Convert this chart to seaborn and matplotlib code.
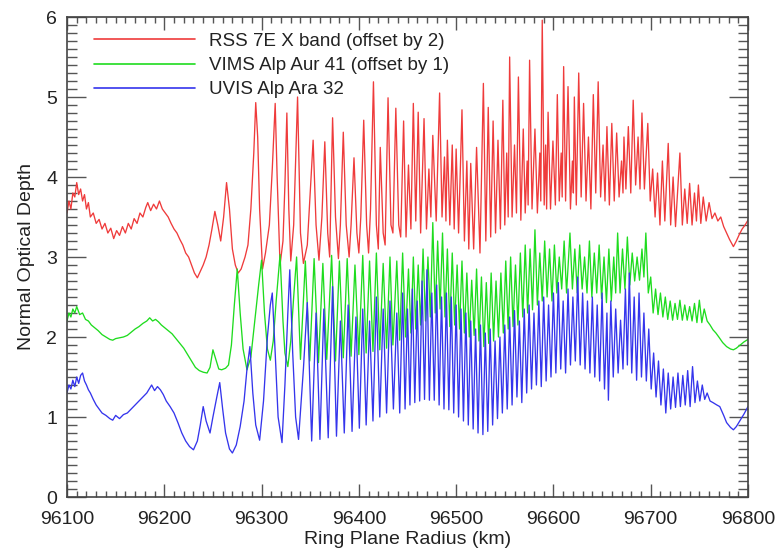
import matplotlib
matplotlib.use("Agg")
import matplotlib.pyplot as plt
import pandas as pd
import seaborn as sns
from matplotlib.ticker import MultipleLocator

# ---------------- data (radius km, normal optical depth as plotted) ----------------
rss_points = [
    (96100, 3.55), (96102, 3.70), (96104, 3.60), (96106, 3.80), (96108, 3.75), (96110, 3.93),
    (96112, 3.78), (96114, 3.85), (96116, 3.70), (96118, 3.78), (96120, 3.60), (96122, 3.68),
    (96124, 3.50), (96127, 3.55), (96130, 3.42), (96133, 3.47), (96136, 3.35), (96139, 3.42),
    (96142, 3.30), (96145, 3.36), (96148, 3.23), (96151, 3.33), (96154, 3.27), (96157, 3.38),
    (96160, 3.30), (96163, 3.42), (96166, 3.35), (96169, 3.48), (96172, 3.42), (96175, 3.55),
    (96178, 3.50), (96181, 3.62), (96183, 3.68), (96186, 3.58), (96189, 3.66), (96192, 3.60),
    (96195, 3.70), (96198, 3.60), (96201, 3.55), (96204, 3.50), (96207, 3.42), (96210, 3.35),
    (96213, 3.30), (96216, 3.22), (96219, 3.15), (96222, 3.05), (96225, 3.00), (96228, 2.90),
    (96231, 2.80), (96234, 2.74), (96237, 2.82), (96240, 2.90), (96243, 3.00), (96246, 3.15),
    (96249, 3.35), (96252, 3.57), (96255, 3.40), (96258, 3.20), (96261, 3.50), (96264, 3.93),
    (96267, 3.60), (96270, 3.10), (96273, 2.90), (96276, 2.80), (96279, 2.85), (96283, 3.00),
    (96286, 3.15), (96289, 3.60), (96292, 4.30), (96294, 4.93), (96296, 4.50), (96298, 3.60),
    (96301, 2.85), (96304, 3.05), (96308, 3.40), (96311, 4.10), (96314, 4.92), (96316, 4.00),
    (96319, 2.90), (96322, 3.20), (96324, 3.90), (96326, 4.80), (96328, 3.60), (96330, 2.95),
    (96333, 3.40), (96335, 4.20), (96337, 5.00), (96340, 3.30), (96343, 2.92), (96347, 3.15),
    (96350, 3.80), (96353, 4.46), (96356, 3.40), (96359, 2.96), (96362, 3.50), (96365, 4.44),
    (96368, 3.30), (96370, 3.00), (96373, 4.74), (96376, 3.50), (96379, 2.98), (96381, 3.40),
    (96384, 4.56), (96387, 3.40), (96390, 3.00), (96392, 3.40), (96395, 4.24), (96398, 3.30),
    (96400, 3.05), (96402, 3.50), (96405, 4.71), (96408, 3.40), (96410, 3.05), (96412, 3.60),
    (96415, 5.19), (96418, 3.40), (96420, 3.10), (96422, 4.37), (96425, 3.30), (96427, 3.15),
    (96430, 4.99), (96433, 3.40), (96435, 3.30), (96438, 4.86), (96441, 3.40), (96443, 3.25),
    (96446, 4.70), (96448.5, 3.25), (96451, 4.15), (96453.5, 3.35), (96456, 4.92), (96458.5, 3.45),
    (96461, 4.81), (96463.5, 3.30), (96467, 4.73), (96469.5, 3.35), (96472, 4.10), (96474, 3.50),
    (96476, 4.52), (96479.5, 3.45), (96483, 5.05), (96485.5, 3.50), (96488, 4.25), (96489.5, 3.45),
    (96491, 4.46), (96493.5, 3.40), (96496, 4.40), (96498, 3.35), (96500, 4.35), (96502.5, 3.30),
    (96506, 4.84), (96508.5, 3.20), (96511, 4.20), (96513, 3.10), (96515, 4.17), (96518, 3.10),
    (96521, 4.37), (96524.5, 3.05), (96528, 5.17), (96530.5, 3.20), (96533, 4.87), (96535.5, 3.25),
    (96538, 4.70), (96540.5, 3.30), (96543, 4.46), (96545.5, 3.35), (96548, 4.96), (96550, 3.40),
    (96552, 4.30), (96553.5, 3.50), (96555, 5.50), (96557.5, 3.50), (96560, 4.40), (96562, 3.55),
    (96564, 5.25), (96566.5, 3.46), (96569, 4.60), (96571, 3.55), (96573, 4.20), (96574, 3.65),
    (96575.5, 5.46), (96578, 3.60), (96581, 4.60), (96583.5, 3.55), (96586, 4.30), (96587, 3.70),
    (96588.5, 5.96), (96590.5, 3.65), (96592, 4.40), (96593, 3.60), (96594.5, 4.81), (96597, 3.60),
    (96599.5, 4.45), (96602, 3.65), (96604, 5.03), (96606, 3.70), (96608, 4.30), (96609, 3.75),
    (96610.5, 5.38), (96612.5, 3.70), (96615, 5.13), (96617.5, 3.60), (96619.5, 4.20), (96620.5, 3.80),
    (96621.5, 5.00), (96623.5, 3.65), (96626, 5.30), (96628.5, 3.75), (96631, 4.92), (96633.5, 3.70),
    (96636, 4.50), (96638.5, 3.60), (96641, 5.03), (96643.5, 3.80), (96646, 5.19), (96648.5, 3.75),
    (96651, 4.40), (96653, 3.70), (96655, 4.63), (96657.5, 3.65), (96660, 4.67), (96662.5, 3.70),
    (96665, 4.55), (96667.5, 3.75), (96670, 4.20), (96671.5, 3.80), (96672.5, 4.50), (96674.5, 3.85),
    (96677, 4.63), (96679.5, 3.80), (96682, 4.96), (96684.5, 3.90), (96687, 4.50), (96689, 3.85),
    (96691, 4.80), (96693.5, 3.85), (96697, 4.67), (96699.5, 3.70), (96702, 4.10), (96704.5, 3.50),
    (96707, 4.05), (96709.5, 3.40), (96712, 4.20), (96714.5, 3.45), (96718, 4.42), (96720.5, 3.40),
    (96723, 4.00), (96725.5, 3.38), (96730, 4.30), (96732.5, 3.40), (96735, 3.85), (96737.5, 3.42),
    (96740, 3.92), (96742.5, 3.40), (96745, 3.80), (96747, 3.45), (96749, 3.90), (96751.5, 3.42),
    (96754, 3.75), (96757, 3.45), (96760, 3.68), (96763, 3.48), (96766, 3.55), (96769, 3.45),
    (96772, 3.50), (96775, 3.38), (96778, 3.30), (96781, 3.22), (96785, 3.13), (96788, 3.20),
    (96791, 3.28), (96794, 3.35), (96797, 3.40), (96800, 3.46),
]

vims_points = [
    (96100, 2.20), (96102, 2.30), (96104, 2.25), (96106, 2.35), (96108, 2.30), (96110, 2.38),
    (96113, 2.28), (96116, 2.30), (96119, 2.22), (96122, 2.20), (96125, 2.15), (96128, 2.12),
    (96132, 2.08), (96136, 2.03), (96140, 2.00), (96144, 1.97), (96147, 1.96), (96150, 1.98),
    (96154, 1.99), (96158, 2.00), (96162, 2.02), (96166, 2.06), (96170, 2.10), (96174, 2.13),
    (96178, 2.17), (96182, 2.20), (96185, 2.24), (96188, 2.20), (96191, 2.22), (96194, 2.19),
    (96197, 2.15), (96200, 2.12), (96204, 2.08), (96208, 2.04), (96212, 1.98), (96216, 1.92),
    (96220, 1.86), (96224, 1.78), (96228, 1.70), (96232, 1.62), (96236, 1.58), (96240, 1.56),
    (96244, 1.55), (96247, 1.62), (96250, 1.84), (96253, 1.72), (96256, 1.60), (96259, 1.59),
    (96263, 1.61), (96266, 1.65), (96269, 1.90), (96272, 2.40), (96275, 2.85), (96278, 2.30),
    (96281, 1.85), (96285, 1.59), (96289, 1.75), (96293, 2.20), (96297, 2.65), (96300, 2.96),
    (96303, 2.30), (96306, 1.85), (96309, 1.71), (96312, 1.95), (96315, 2.45), (96319, 3.03),
    (96322, 2.20), (96324, 1.80), (96327, 1.63), (96330, 1.95), (96333, 2.50), (96336, 3.00),
    (96340, 1.72), (96345, 2.95), (96349.5, 1.70), (96354, 2.98), (96358.5, 1.68), (96363, 2.92),
    (96367, 1.72), (96372, 3.02), (96376, 1.70), (96380, 2.95), (96384, 1.74), (96388, 2.98),
    (96392, 1.76), (96396, 2.90), (96400, 1.78), (96404, 3.02), (96407.5, 1.80), (96411, 2.95),
    (96414.5, 1.82), (96418, 3.05), (96421.5, 1.84), (96425, 2.92), (96428.5, 1.86), (96432, 3.00),
    (96435, 1.90), (96439, 2.95), (96442, 1.96), (96445, 3.05), (96448, 2.00), (96451, 2.85),
    (96453.5, 2.05), (96456, 3.00), (96458.5, 2.10), (96461, 2.90), (96463.5, 2.15), (96466, 3.10),
    (96468.5, 2.20), (96471, 3.00), (96473.5, 2.25), (96476, 3.43), (96478.5, 2.30), (96481, 3.20),
    (96483.5, 2.35), (96486, 3.30), (96488.5, 2.25), (96491, 3.10), (96493.5, 2.13), (96496, 3.05),
    (96498.5, 2.15), (96501, 2.90), (96503.5, 2.10), (96506, 2.95), (96508.5, 2.05), (96511, 2.80),
    (96513.5, 2.00), (96516, 2.71), (96518.5, 2.02), (96521, 2.85), (96523.5, 1.95), (96526, 2.75),
    (96528.5, 1.88), (96531, 2.68), (96533.5, 1.92), (96536, 2.80), (96538.5, 1.95), (96541, 2.70),
    (96543.5, 2.00), (96546, 2.80), (96548.5, 2.05), (96551, 2.95), (96553.5, 2.10), (96556, 3.00),
    (96558.5, 2.13), (96561, 2.90), (96563.5, 2.15), (96566, 3.05), (96568.5, 2.25), (96571, 3.15),
    (96573.5, 2.30), (96576, 3.10), (96578.5, 2.34), (96581, 3.34), (96583.5, 2.40), (96586, 3.05),
    (96588.5, 2.45), (96591, 3.20), (96593.5, 2.50), (96596, 3.10), (96598.5, 2.45), (96601, 3.15),
    (96603.5, 2.55), (96606, 3.00), (96608.5, 2.60), (96611, 3.20), (96613.5, 2.55), (96617, 3.30),
    (96619.5, 2.60), (96622, 3.10), (96624.5, 2.55), (96627, 3.15), (96629.5, 2.60), (96632, 3.00),
    (96634.5, 2.55), (96637, 3.20), (96639.5, 2.50), (96642, 3.05), (96644.5, 2.55), (96647, 3.15),
    (96649.5, 2.48), (96652, 3.00), (96654.5, 2.43), (96657, 3.10), (96659.5, 2.45), (96662, 3.00),
    (96664, 2.55), (96666, 3.30), (96668.5, 2.55), (96671, 3.10), (96673.5, 2.60), (96676, 3.25),
    (96678.5, 2.65), (96681, 3.05), (96683.5, 2.70), (96686, 3.00), (96688.5, 2.71), (96691, 3.10),
    (96693, 2.75), (96695, 3.30), (96697.5, 2.55), (96700, 2.75), (96702.5, 2.30), (96705, 2.60),
    (96707.5, 2.28), (96710, 2.55), (96712.5, 2.25), (96715, 2.50), (96717.5, 2.22), (96720, 2.45),
    (96722.5, 2.21), (96725, 2.42), (96727.5, 2.22), (96730, 2.46), (96732.5, 2.21), (96735, 2.40),
    (96737.5, 2.21), (96740, 2.38), (96742.5, 2.20), (96745, 2.42), (96747.5, 2.18), (96750, 2.46),
    (96752.5, 2.18), (96755, 2.35), (96758, 2.20), (96761, 2.15), (96764, 2.09), (96767, 2.05),
    (96770, 2.00), (96774, 1.93), (96778, 1.88), (96782, 1.85), (96785, 1.84), (96788, 1.86),
    (96792, 1.90), (96796, 1.94), (96800, 1.97),
]

uvis_points = [
    (96100, 1.30), (96102, 1.40), (96104, 1.35), (96106, 1.46), (96108, 1.38), (96110, 1.50),
    (96112, 1.42), (96114, 1.52), (96116, 1.55), (96118, 1.45), (96120, 1.40), (96122, 1.34),
    (96124, 1.30), (96127, 1.22), (96130, 1.15), (96133, 1.10), (96136, 1.05), (96140, 1.02),
    (96144, 0.98), (96147, 0.96), (96150, 1.02), (96154, 0.98), (96158, 1.03), (96162, 1.05),
    (96166, 1.10), (96170, 1.15), (96174, 1.20), (96178, 1.25), (96182, 1.30), (96185, 1.36),
    (96187, 1.40), (96190, 1.33), (96193, 1.38), (96196, 1.34), (96199, 1.28), (96202, 1.20),
    (96206, 1.13), (96210, 1.05), (96214, 0.93), (96218, 0.80), (96222, 0.70), (96226, 0.63),
    (96230, 0.59), (96234, 0.70), (96237, 0.90), (96240, 1.13), (96243, 0.95), (96247, 0.80),
    (96250, 1.00), (96254, 1.25), (96257, 1.43), (96260, 1.10), (96263, 0.80), (96267, 0.60),
    (96270, 0.55), (96274, 0.65), (96278, 0.88), (96282, 1.20), (96285, 1.60), (96288, 1.88),
    (96291, 1.30), (96294, 0.90), (96298, 0.71), (96302, 1.20), (96306, 2.00), (96309, 2.40),
    (96311, 2.55), (96314, 1.80), (96317, 1.00), (96321, 0.68), (96324, 1.40), (96327, 2.30),
    (96329, 2.84), (96332, 1.80), (96335, 1.00), (96338, 0.72), (96343, 1.60), (96347, 2.43),
    (96351.5, 0.70), (96356, 2.30), (96360, 0.72), (96364, 2.35), (96368.5, 0.74), (96373, 2.63),
    (96377, 0.76), (96381, 2.20), (96385, 0.80), (96389, 2.40), (96393, 0.82), (96397, 2.25),
    (96400.5, 0.86), (96404, 2.35), (96407.5, 0.90), (96411, 2.20), (96414.5, 0.95), (96418, 2.50),
    (96421.5, 1.00), (96425, 2.35), (96428.5, 1.05), (96432, 2.45), (96435.5, 1.10), (96439, 2.30),
    (96442, 1.05), (96445, 2.55), (96447.5, 1.10), (96450, 2.35), (96452.5, 1.15), (96455, 2.60),
    (96457.5, 1.18), (96460, 2.45), (96462.5, 1.20), (96465, 2.70), (96467.5, 1.22), (96470, 2.84),
    (96472.5, 1.21), (96475, 2.55), (96477.5, 1.21), (96480, 2.65), (96482.5, 1.15), (96485, 2.50),
    (96487.5, 1.10), (96490, 2.55), (96492.5, 1.09), (96495, 2.50), (96497.5, 1.05), (96500, 2.40),
    (96502.5, 1.00), (96505, 2.35), (96507.5, 0.95), (96510, 2.30), (96512.5, 0.90), (96515, 2.20),
    (96517.5, 0.85), (96520, 2.10), (96522.5, 0.80), (96525, 2.15), (96527.5, 0.78), (96530, 2.05),
    (96532.5, 0.82), (96535, 2.10), (96537.5, 0.90), (96540, 1.95), (96542.5, 0.98), (96545, 2.00),
    (96547.5, 1.05), (96550, 2.15), (96552.5, 1.10), (96555, 2.25), (96557.5, 1.15), (96560, 2.33),
    (96562.5, 1.25), (96565, 2.20), (96567.5, 1.18), (96570, 2.35), (96572.5, 1.30), (96575, 2.40),
    (96577.5, 1.35), (96580, 2.30), (96582.5, 1.40), (96585, 2.45), (96587.5, 1.38), (96590, 2.50),
    (96592.5, 1.45), (96595, 2.40), (96597.5, 1.50), (96600, 2.55), (96602.5, 1.55), (96605, 2.68),
    (96607.5, 1.60), (96610, 2.45), (96612.5, 1.55), (96615, 2.60), (96617.5, 1.65), (96620, 2.50),
    (96622.5, 1.70), (96625, 2.75), (96627.5, 1.65), (96630, 2.55), (96632.5, 1.60), (96635, 2.45),
    (96637.5, 1.55), (96640, 2.50), (96642.5, 1.50), (96645, 2.40), (96647.5, 1.45), (96650, 2.55),
    (96652.5, 1.35), (96655, 2.30), (96656.5, 1.21), (96659, 2.45), (96661.5, 1.50), (96664, 2.35),
    (96666.5, 1.55), (96669, 2.21), (96671.5, 1.60), (96674, 2.60), (96676, 1.65), (96678, 2.80),
    (96680.5, 1.55), (96683, 2.50), (96685.5, 1.46), (96688, 2.55), (96690.5, 1.50), (96693, 2.30),
    (96695.5, 1.45), (96698, 2.10), (96700.5, 1.35), (96703, 1.80), (96705.5, 1.25), (96708, 1.70),
    (96710.5, 1.15), (96713, 1.60), (96715.5, 1.05), (96718, 1.55), (96720.5, 1.10), (96723, 1.50),
    (96725.5, 1.12), (96728, 1.55), (96730.5, 1.13), (96733, 1.52), (96735.5, 1.15), (96738, 1.58),
    (96740.5, 1.13), (96743, 1.63), (96745.5, 1.18), (96748, 1.45), (96750.5, 1.20), (96753, 1.40),
    (96755.5, 1.22), (96758, 1.30), (96761, 1.20), (96764, 1.18), (96768, 1.15), (96771, 1.13),
    (96775, 1.02), (96778, 0.93), (96782, 0.87), (96785, 0.84), (96788, 0.88), (96792, 0.96),
    (96796, 1.04), (96800, 1.13),
]

series_labels = ["RSS 7E X band (offset by 2)", "VIMS Alp Aur 41 (offset by 1)", "UVIS Alp Ara 32"]
series_colors = ["#ef3b3b", "#1fdc1f", "#3535ec"]
x_ticks = [96100, 96200, 96300, 96400, 96500, 96600, 96700, 96800]
y_ticks = [0, 1, 2, 3, 4, 5, 6]

# ---------------- build long table ----------------
frames = []
for label, pts in zip(series_labels, [rss_points, vims_points, uvis_points]):
    df = pd.DataFrame(pts, columns=["radius", "tau"])
    df["series"] = label
    frames.append(df)
data = pd.concat(frames, ignore_index=True)

sns.set_theme(style="ticks")
plt.rcParams["font.family"] = ["Liberation Sans", "DejaVu Sans"]
plt.rcParams.update({
    "xtick.direction": "in", "ytick.direction": "in",
    "xtick.top": True, "xtick.bottom": True, "ytick.left": True, "ytick.right": True,
    "xtick.minor.visible": True, "ytick.minor.visible": True,
    "xtick.color": "#222222", "ytick.color": "#222222",
})

fig = plt.figure(figsize=(7.79, 5.56), dpi=100)
ax = fig.add_axes([67 / 779, 1 - 497 / 556, 681 / 779, 480 / 556])

sns.lineplot(data=data, x="radius", y="tau", hue="series", hue_order=series_labels,
             palette=dict(zip(series_labels, series_colors)), sort=False, estimator=None,
             linewidth=0.95, ax=ax)

ax.set_xlim(96100, 96800)
ax.set_ylim(0, 6)
ax.set_xticks(x_ticks, labels=[str(t) for t in x_ticks])
ax.set_yticks(y_ticks, labels=[str(t) for t in y_ticks])
ax.xaxis.set_minor_locator(MultipleLocator(10))
ax.yaxis.set_minor_locator(MultipleLocator(0.1))
ax.xaxis.set_ticks_position("both")
ax.yaxis.set_ticks_position("both")
ax.tick_params(which="both", direction="in", bottom=True, top=True, left=True, right=True,
               color="#555555", width=1.0, labelcolor="#222222")
ax.tick_params(axis="x", which="major", length=9.5, labelsize=14, pad=10)
ax.tick_params(axis="x", which="minor", length=4.5)
ax.tick_params(axis="y", which="major", length=14, labelsize=14, pad=7)
ax.tick_params(axis="y", which="minor", length=7)
for s in ax.spines.values():
    s.set_linewidth(1.2)
    s.set_color("#444444")
    s.set_visible(True)

ax.set_xlabel("Ring Plane Radius (km)", fontsize=14, labelpad=2, color="#222222")
ax.set_ylabel("Normal Optical Depth", fontsize=14, labelpad=8, color="#222222")

handles, labels = ax.get_legend_handles_labels()
leg = ax.legend(handles, labels, loc="upper left", bbox_to_anchor=(0.034, 0.975), frameon=False,
                fontsize=13.5, handlelength=5.4, handletextpad=0.75, labelspacing=0.38,
                borderaxespad=0.0, borderpad=0.2)
for t in leg.get_texts():
    t.set_color("#222222")
for h in leg.legend_handles:
    h.set_linewidth(1.2)

fig.savefig("out.png", dpi=100)
